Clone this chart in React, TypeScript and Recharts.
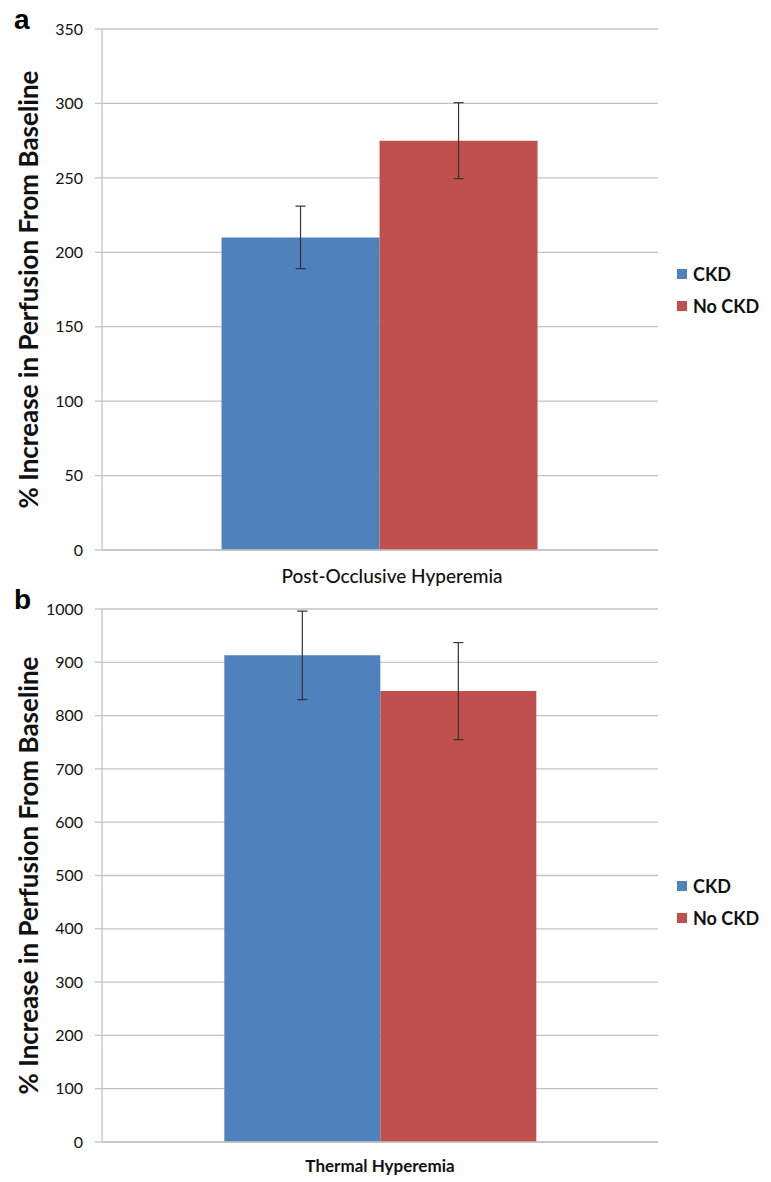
import React from 'react';
import { BarChart, Bar, XAxis, YAxis, CartesianGrid, Legend, ErrorBar } from 'recharts';

const categoriesA = ['Post-Occlusive Hyperemia'];
const ckdA = [210];
const ckdErrA = [21];
const noCkdA = [275];
const noCkdErrA = [25.5];
const ticksA = [0, 50, 100, 150, 200, 250, 300, 350];

const categoriesB = ['Thermal Hyperemia'];
const ckdB = [913];
const ckdErrB = [83];
const noCkdB = [846];
const noCkdErrB = [91];
const ticksB = [0, 100, 200, 300, 400, 500, 600, 700, 800, 900, 1000];

const seriesNames = ['CKD', 'No CKD'];
const yLabel = '% Increase in Perfusion From Baseline';

const BLUE = '#4F81BD';
const RED = '#C0504D';
const GRID = '#C3C3C3';
const FONT = 'Lato, "Open Sans", sans-serif';

function build(cats: string[], a: number[], ae: number[], b: number[], be: number[]) {
  return cats.map((name, i) => ({ name, ckd: a[i], ckdErr: ae[i], nockd: b[i], nockdErr: be[i] }));
}

const LegendContent = () => (
  <div style={{ fontFamily: FONT, fontSize: 18, fontWeight: 700, color: '#111' }}>
    {seriesNames.map((n, i) => (
      <div key={n} style={{ display: 'flex', alignItems: 'center', height: 32 }}>
        <span style={{ display: 'inline-block', width: 10, height: 10, background: i === 0 ? BLUE : RED, marginRight: 6 }} />
        <span>{n}</span>
      </div>
    ))}
  </div>
);

const YLabel = (props: any) => {
  const vb = props.viewBox || {};
  const cy = vb.y + vb.height / 2;
  const cx = 28;
  return (
    <text x={cx} y={cy} transform={`rotate(-90, ${cx}, ${cy})`} textAnchor="middle" dominantBaseline="central"
      style={{ fontFamily: FONT, fontSize: 26, fontWeight: 700, fill: '#111' }}>
      {yLabel}
    </text>
  );
};

function Panel(props: {
  data: any[]; ticks: number[]; max: number; height: number; top: number; letter: string;
  letterTop: number; legendTop: number; xBold: boolean; gap: string; xSize: number; xMargin: number; xDx: number;
}) {
  const { data, ticks, max, height, top, letter, letterTop, legendTop, xBold, gap, xSize, xMargin, xDx } = props;
  return (
    <div style={{ position: 'absolute', left: 0, top, width: 771, height }}>
      <div style={{ position: 'absolute', left: 14, top: letterTop, fontFamily: '"Liberation Sans", Arial, sans-serif', fontWeight: 700, fontSize: 28, lineHeight: '28px', color: '#000' }}>{letter}</div>
      <BarChart width={771} height={height} data={data} margin={{ top: height === 590 ? 29 : 19, right: 113, bottom: 0, left: 0 }}
        barCategoryGap={gap} barGap={0}>
        <CartesianGrid horizontal vertical={false} stroke={GRID} strokeWidth={1.3} />
        <XAxis dataKey="name" height={40} axisLine={{ stroke: GRID, strokeWidth: 1.3 }} tickLine={false} tickMargin={xMargin}
          tick={{ fontFamily: FONT, fontSize: xSize, fill: '#111', fontWeight: xBold ? 700 : 500, dx: xDx }} />
        <YAxis width={102} domain={[0, max]} ticks={ticks} interval={0} axisLine={{ stroke: GRID, strokeWidth: 1.3 }}
          tickLine={{ stroke: GRID, strokeWidth: 1.3 }} tickSize={7} tickMargin={12}
          tick={{ fontFamily: FONT, fontSize: 16, fill: '#111' }} label={<YLabel />} />
        <Legend layout="vertical" align="center" verticalAlign="middle" content={<LegendContent />}
          wrapperStyle={{ left: 677, top: legendTop, width: 'auto' }} />
        <Bar dataKey="ckd" name={seriesNames[0]} fill={BLUE} isAnimationActive={false}>
          <ErrorBar dataKey="ckdErr" width={5} stroke="#333" strokeWidth={1.2} direction="y" isAnimationActive={false} />
        </Bar>
        <Bar dataKey="nockd" name={seriesNames[1]} fill={RED} isAnimationActive={false}>
          <ErrorBar dataKey="nockdErr" width={5} stroke="#333" strokeWidth={1.2} direction="y" isAnimationActive={false} />
        </Bar>
      </BarChart>
    </div>
  );
}

export default function App() {
  const dataA = build(categoriesA, ckdA, ckdErrA, noCkdA, noCkdErrA);
  const dataB = build(categoriesB, ckdB, ckdErrB, noCkdB, noCkdErrB);
  return (
    <div style={{ position: 'absolute', left: 0, top: 0, width: 771, height: 1182, background: '#fff' }}>
      <Panel data={dataA} ticks={ticksA} max={350} height={590} top={0} letter="a" letterTop={6} legendTop={258} xBold={false} gap="21.5%" xSize={19} xMargin={14} xDx={12} />
      <Panel data={dataB} ticks={ticksB} max={1000} height={592} top={590} letter="b" letterTop={-4} legendTop={280} xBold={true} gap="22%" xSize={17} xMargin={12} xDx={0} />
    </div>
  );
}
